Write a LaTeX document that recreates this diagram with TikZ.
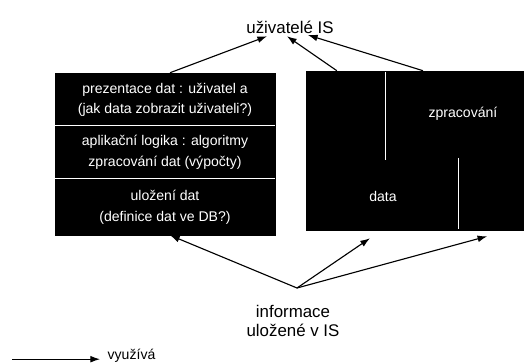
\documentclass[tikz,border=0pt]{standalone}
\usepackage{fontspec}
\setmainfont{Liberation Sans}
\usetikzlibrary{arrows.meta,positioning,calc}

\begin{document}
\begin{tikzpicture}[x=1cm,y=1cm,>={Latex[length=2.4mm,width=1.7mm]},every node/.style={font=\fontsize{10}{12}\selectfont}]
  \tikzset{
    panel/.style={fill=black,draw=black,inner sep=0pt},
    paneltext/.style={text=white,inner sep=1pt},
    label/.style={font=\fontsize{12}{13}\selectfont,align=center},
    uses/.style={->,line width=0.8pt}
  }
  \useasboundingbox (0,0) rectangle (13.2,9.1);

  % the two black panels
  \node[panel,minimum width=5.5cm,minimum height=4.05cm] (layers) at (4.125,5.25) {};
  \node[panel,minimum width=5.425cm,minimum height=3.975cm] (split) at (10.3625,5.3375) {};

  % white rules inside the panels
  \draw[white,line width=0.7pt] (1.375,5.975) -- (6.875,5.975);
  \draw[white,line width=0.7pt] (1.375,4.65) -- (6.875,4.65);
  \draw[white,line width=0.7pt] (9.625,7.3) -- (9.625,5.1);
  \draw[white,line width=0.7pt] (11.45,5.15) -- (11.45,3.375);

  \node[paneltext] (l1) at (4.125,6.85) {prezentace dat : uživatel a};
  \node[paneltext] (l2) at (4.125,6.35) {(jak data zobrazit uživateli?)};
  \node[paneltext] (l3) at (4.125,5.55) {aplikační logika : algoritmy};
  \node[paneltext] (l4) at (4.125,5.025) {zpracování dat (výpočty)};
  \node[paneltext] (l5) at (4.125,4.225) {uložení dat};
  \node[paneltext] (l6) at (4.125,3.65) {(definice dat ve DB?)};

  \node[paneltext] (r1) at (11.575,6.25) {zpracování};
  \node[paneltext] (r2) at (9.575,4.2) {data};

  % labels
  \node[label] (users) at (7.25,8.425) {uživatelé IS};
  \node[label] (info) at (7.325,1.075) {informace\\uložené v IS};
  \coordinate (hub) at (7.425,1.9);

  % arrows to the users
  \draw[uses] ($(layers.north west)!0.523!(layers.north east)$) -- ([xshift=-5.75mm,yshift=0.5mm]users.south);
  \draw[uses] ($(split.north west)!0.143!(split.north east)$) -- ([xshift=-0.75mm,yshift=0.5mm]users.south);
  \draw[uses] ($(split.north west)!0.539!(split.north east)$) -- ([xshift=4.5mm,yshift=0.8mm]users.south);

  % arrows from the stored information
  \draw[uses] (hub) -- ($(layers.south west)!0.523!(layers.south east)$);
  \draw[uses] (hub) -- ([yshift=-2mm]$(split.south west)!0.295!(split.south east)$);
  \draw[uses] (hub) -- ([yshift=-1.5mm]$(split.south west)!0.834!(split.south east)$);

  % legend
  \coordinate (legA) at (0.3,0.12);
  \node[anchor=west,inner sep=1pt] (legtext) at (2.65,0.2) {využívá};
  \draw[uses] (legA) -- ([xshift=-1.5mm]legA -| legtext.west);
\end{tikzpicture}
\end{document}
